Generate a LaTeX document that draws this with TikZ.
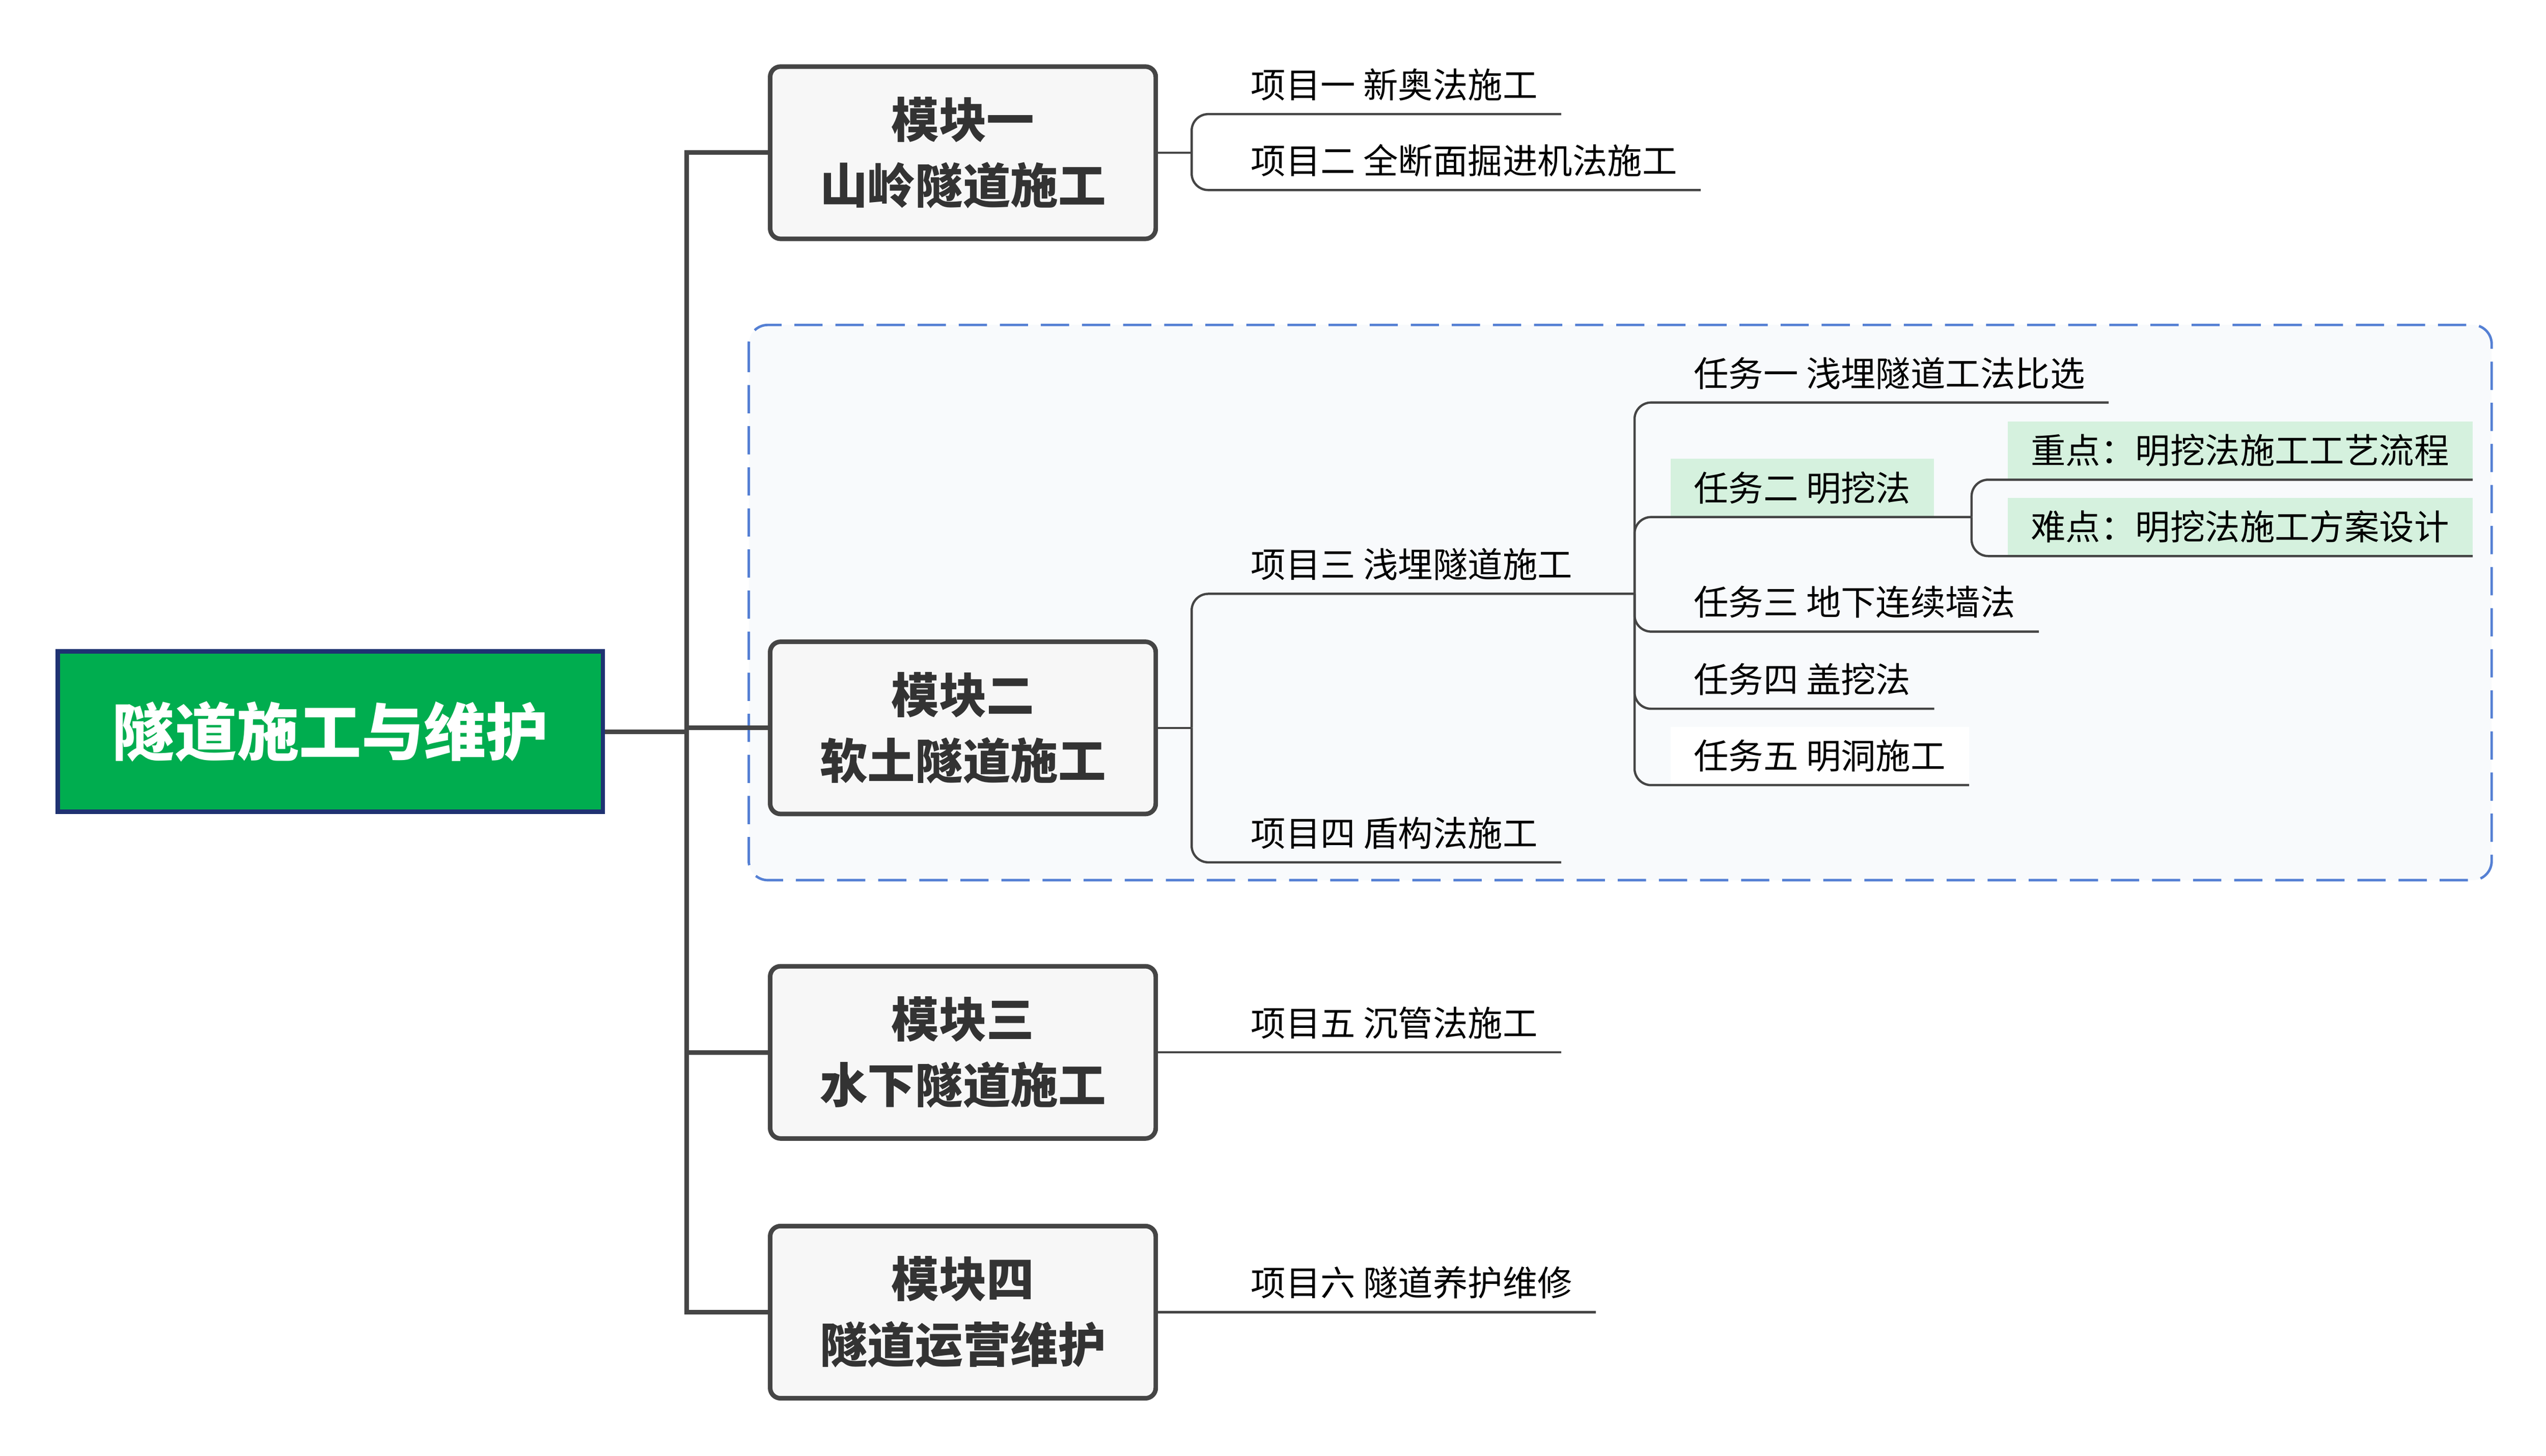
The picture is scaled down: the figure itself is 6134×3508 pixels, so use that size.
\documentclass[tikz,border=0pt]{standalone}
\usepackage{fontspec}
\newfontfamily\cjk{Noto Sans CJK SC}
\definecolor{lineC}{HTML}{454545}
\definecolor{modC}{HTML}{F7F7F7}
\definecolor{modT}{HTML}{333333}
\definecolor{rootG}{HTML}{00AD4F}
\definecolor{rootB}{HTML}{1F3272}
\definecolor{dashC}{HTML}{5580D4}
\definecolor{groupC}{HTML}{F8FAFC}
\definecolor{hlC}{HTML}{D5F1DE}
\begin{document}
\begin{tikzpicture}[x=0.1mm,y=-0.1mm,
  conn/.style={draw=lineC, line width=0.55mm, rounded corners=4mm},
  trunk/.style={draw=lineC, line width=1.1mm},
  lbl/.style={inner xsep=5.6mm, inner ysep=0pt, minimum height=14mm, anchor=south west,
    font=\cjk\fontsize{23.9pt}{28pt}\selectfont, text=black},
  hl/.style={lbl, fill=hlC},
  wh/.style={lbl, fill=white},
  modbox/.style={draw=lineC, line width=1.1mm, fill=modC, rounded corners=2.5mm,
    minimum width=92.9mm, minimum height=41.5mm, align=center, inner sep=0pt,
    font=\cjk\bfseries\fontsize{32.7pt}{45pt}\selectfont, text=modT},
  rootbox/.style={draw=rootB, fill=rootG, line width=1.1mm, minimum width=131.3mm,
    minimum height=38.7mm, inner sep=0pt,
    font=\cjk\bfseries\fontsize{42.7pt}{50pt}\selectfont, text=white},
  groupbox/.style={draw=dashC, fill=groupC, line width=0.6mm,
    dash pattern=on 6.8mm off 3.1mm, rounded corners=4.6mm}]

\useasboundingbox[fill=white] (0,0) rectangle (6134,3508);

% dashed group frame
\draw[groupbox] (1804,783) rectangle (6003,2121);

% root and modules
\node[rootbox] (root) at (796,1763) {隧道施工与维护};
\node[modbox] (m1) at (2320,368) {模块一\\山岭隧道施工};
\node[modbox] (m2) at (2320,1754) {模块二\\软土隧道施工};
\node[modbox] (m3) at (2320,2536) {模块三\\水下隧道施工};
\node[modbox] (m4) at (2320,3162) {模块四\\隧道运营维护};

\coordinate (tr) at (1654,1763);
\draw[trunk] (root.east) -- (tr);
\foreach \m in {m1,m2,m3,m4} \draw[trunk] (tr) |- (\m.west);

% module 1 children
\coordinate (b1) at (2871,368);
\node[lbl] (i1) at (2957,275) {项目一 新奥法施工};
\node[lbl] (i2) at (2957,458) {项目二 全断面掘进机法施工};
\draw[conn] (m1.east) -- (b1);
\draw[conn] (b1) |- (i1.south east);
\draw[conn] (b1) |- (i2.south east);

% module 2 children
\coordinate (b2) at (2871,1754);
\coordinate (bt) at (3938,1431);
\node[lbl] (i3) at (2957,1431) {项目三 浅埋隧道施工};
\node[lbl] (i4) at (2957,2078) {项目四 盾构法施工};
\draw[conn] (m2.east) -- (b2);
\draw[conn] (b2) |- (bt);
\draw[conn] (b2) |- (i4.south east);

% tasks
\coordinate (bs) at (4750,1246);
\node[lbl] (t1) at (4024,970) {任务一 浅埋隧道工法比选};
\node[hl] (t2) at (4024,1246) {任务二 明挖法};
\node[lbl] (t3) at (4024,1522) {任务三 地下连续墙法};
\node[lbl] (t4) at (4024,1708) {任务四 盖挖法};
\node[wh] (t5) at (4024,1892) {任务五 明洞施工};
\draw[conn] (bt) |- (t1.south east);
\draw[conn] (bt) |- (bs);
\draw[conn] (bt) |- (t3.south east);
\draw[conn] (bt) |- (t4.south east);
\draw[conn] (bt) |- (t5.south east);

% key points
\node[hl] (s1) at (4836,1156) {重点：明挖法施工工艺流程};
\node[hl] (s2) at (4836,1340) {难点：明挖法施工方案设计};
\draw[conn] (bs) |- (s1.south east);
\draw[conn] (bs) |- (s2.south east);

% module 3 and 4 children
\node[lbl] (i5) at (2957,2536) {项目五 沉管法施工};
\node[lbl] (i6) at (2957,3162) {项目六 隧道养护维修};
\draw[conn] (m3.east) -- (i5.south east);
\draw[conn] (m4.east) -- (i6.south east);
\end{tikzpicture}
\end{document}
